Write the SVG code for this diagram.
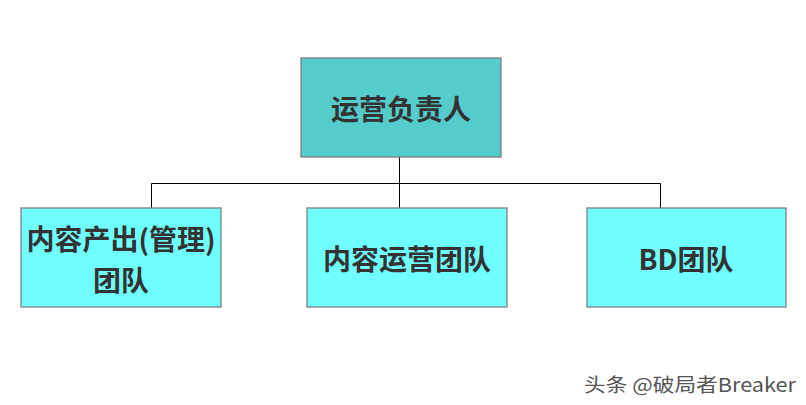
<svg xmlns="http://www.w3.org/2000/svg" width="806" height="405" viewBox="0 0 806 405">
<style>
.box{stroke:#7f7f7f;stroke-width:1.3}
.top{fill:#55cccc}
.sub{fill:#70ffff}
.t{font-family:"Noto Sans CJK SC","Noto Sans",sans-serif;font-weight:bold;font-size:28px;fill:#333;text-anchor:middle;dominant-baseline:central}
.wm{font-family:"Noto Sans CJK SC","Noto Sans",sans-serif;font-size:19px;fill:#555}
.c{fill:none;stroke:#000;stroke-width:1}
</style>
<rect width="806" height="405" fill="#fff"/>
<g id="connectors">
<path class="c" d="M399.5 157V183.5M151.5 208V183.5H660.5V208M399.5 183.5V208"/>
</g>
<g id="n-head">
<rect class="box top" x="301" y="58" width="200" height="99"/>
<text class="t" x="401" y="108">运营负责人</text>
</g>
<g id="n-content-prod">
<rect class="box sub" x="21" y="208" width="200" height="99"/>
<text class="t" x="121" y="238">内容产出(管理)</text>
<text class="t" x="121" y="279">团队</text>
</g>
<g id="n-content-ops">
<rect class="box sub" x="307" y="208" width="200" height="99"/>
<text class="t" x="407" y="258">内容运营团队</text>
</g>
<g id="n-bd">
<rect class="box sub" x="587" y="208" width="199" height="99"/>
<text class="t" x="686" y="258">BD团队</text>
</g>
<text class="wm" x="584" y="383" dominant-baseline="central" textLength="212" lengthAdjust="spacingAndGlyphs" stroke="#fff" stroke-width="2" paint-order="stroke">头条 @破局者Breaker</text>
</svg>
